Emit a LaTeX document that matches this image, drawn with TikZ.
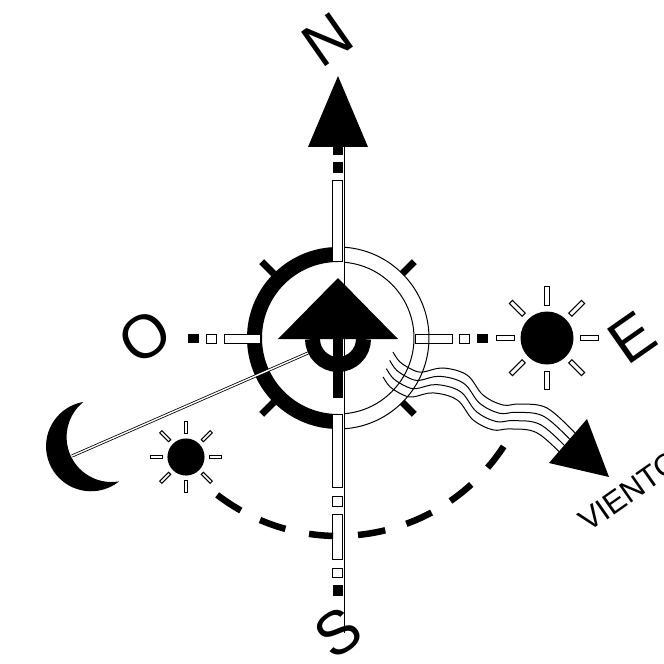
\documentclass[tikz,border=0pt]{standalone}
\usepackage{fontspec}
\setmainfont{Liberation Sans}
\usepackage{tikz}
\tikzset{
    bigletter/.style={font=\fontsize{61}{61}\selectfont, rotate=35, inner sep=0pt},
    barbox/.style={draw=black, fill=white, line width=1pt},
    thinline/.style={line width=1pt},
    windline/.style={line width=1pt},
    tickmark/.style={line width=7pt},
    dashmark/.style={line width=6.5pt},
    moonline/.style={line width=0.8pt, double=white, double distance=1.4pt},
}
\begin{document}
\begin{tikzpicture}[x=1pt, y=1pt]
    \useasboundingbox (-338,-326) rectangle (326,338);
    \fill (0,262) -- (-30,191) -- (30,191) -- cycle;
    \fill (-5,191) rectangle (5,183);
    \fill (-5,176) rectangle (5,165);
    \draw[line width=15pt] (0,83.5) arc[start angle=90, end angle=270, radius=83.5];
    \foreach \ang in {45,135,225,315} {
        \draw[tickmark] (\ang:91) -- (\ang:108);
    }
    \draw[barbox] (-5,157) rectangle (5,76);
    \draw[barbox] (-5,-76) rectangle (5,-149);
    \draw[barbox] (-5,-158) rectangle (5,-168);
    \draw[barbox] (-5,-176) rectangle (5,-221);
    \draw[barbox] (-5,-230) rectangle (5,-239);
    \fill (-5,-247) rectangle (5,-258);
    \draw[barbox] (77,4) rectangle (114,-5);
    \draw[barbox] (121,4) rectangle (131,-5);
    \fill (139,4) rectangle (150,-5);
    \draw[barbox] (-113,4) rectangle (-77,-5);
    \draw[barbox] (-131,4) rectangle (-121,-5);
    \fill (-150,4) rectangle (-139,-5);
    \draw[thinline] (85:76) arc[start angle=85, end angle=-85, radius=76];
    \draw[thinline] (86:91) arc[start angle=86, end angle=-86, radius=91];
    \draw[thinline] (6.5,191) -- (6.5,-295);
    \draw[moonline] (-30,-15) -- (-266,-118);
    \fill (-60,-1) -- (0,60) -- (60,-1) -- cycle;
    \draw[line width=15pt] (-25.5,-1) arc[start angle=180, end angle=360, radius=25.5];
    \fill (-5,-1) rectangle (5,-60);
    \draw[thinline] (6.5,-1) -- (6.5,-60);
    \foreach \cx/\cy/\sunscale in {209/0/1, -152/-119/0.7} {
        \begin{scope}[shift={(\cx,\cy)}, scale=\sunscale]
            \fill (0,0) circle (26.5);
            \foreach \ang in {0,45,...,315} {
                \draw[barbox, rotate=\ang] (33,-2.2) rectangle (51,2.2);
            }
        \end{scope}
    }
    \fill (-255,-64) arc[start angle=100.3, end angle=308.7, radius=45] arc[start angle=279.7, end angle=129.3, radius=45] -- cycle;
    \foreach \angA/\angB in {-33.2/-40.9, -47.7/-55.4, -61.8/-69.8, -76.2/-84.2, -91.4/-98.4, -105.4/-113.2, -119.4/-127.6} {
        \draw[dashmark] (\angA:198) arc[start angle=\angA, end angle=\angB, radius=198];
    }
    \foreach \k in {0,1,2,3} {
        \draw[windline, shift={(-3.3*\k,-8.3*\k)}] plot[smooth, tension=0.6] coordinates {(55,-14) (62,-24) (75,-32) (85,-34) (105,-30) (129,-37) (145,-57) (165,-67) (182,-66) (209,-70) (237,-95)};
    }
    \fill (249,-81) -- (211,-125) -- (271,-139) -- cycle;
    \node[bigletter] (north) at (-10,298) {N};
    \node[bigletter] (east) at (294,0) {E};
    \node[bigletter] (west) at (-193,1) {O};
    \node[bigletter] (south) at (0,-295) {S};
    \node[font=\fontsize{31}{31}\selectfont, rotate=35, anchor=base west, inner sep=0pt] (wind) at (250,-195) {VIENTO};
\end{tikzpicture}
\end{document}
